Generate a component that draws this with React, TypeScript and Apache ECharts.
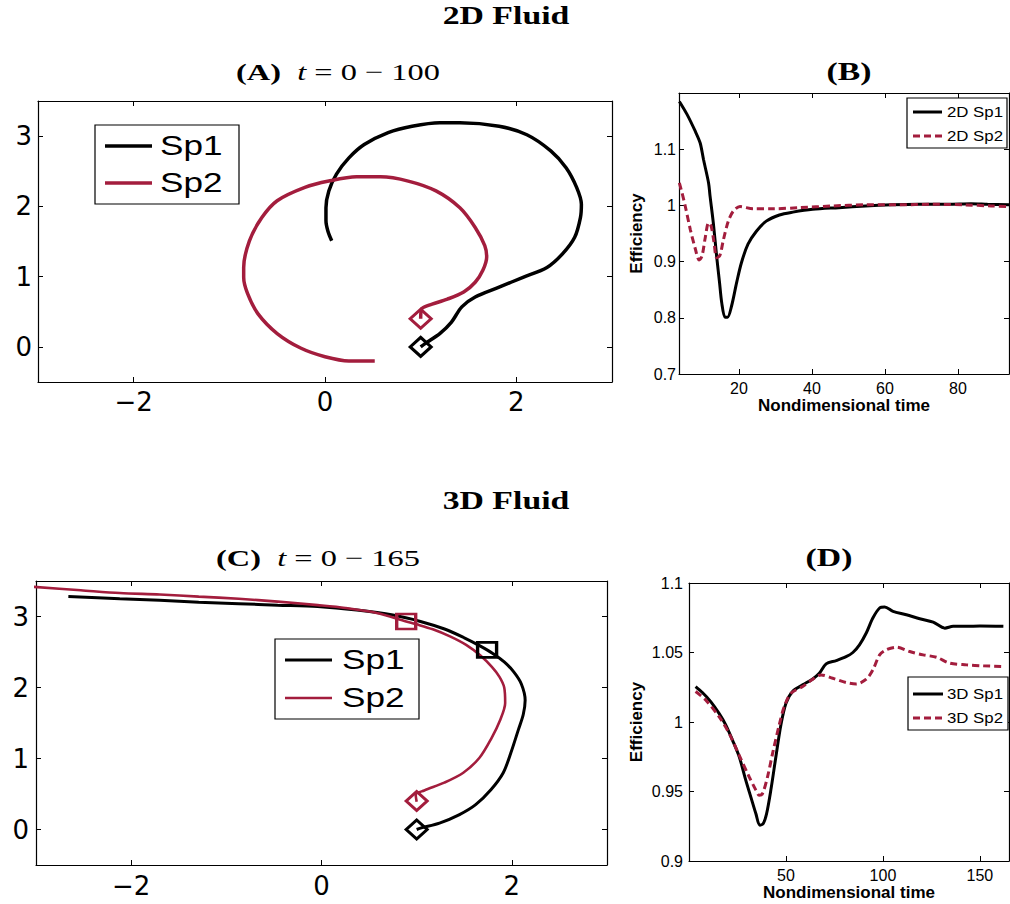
import React, { useEffect, useRef } from 'react';
import * as echarts from 'echarts';

const RED = '#a31d3d';
const BLACK = '#000000';

// ---------- Panel A: 2D fluid trajectories, t = 0-100 ----------
const A_SP1_X = [1.0, 1.05, 1.2, 1.32, 1.43, 1.57, 1.82, 2.07, 2.32, 2.48, 2.61, 2.67, 2.68, 2.63, 2.52, 2.36, 2.11, 1.82, 1.41, 1.2, 0.91, 0.66, 0.41, 0.25, 0.12, 0.04, 0.01, 0.01, 0.03, 0.07];
const A_SP1_Y = [0.0, 0.05, 0.19, 0.35, 0.57, 0.71, 0.85, 0.99, 1.13, 1.32, 1.56, 1.84, 2.03, 2.27, 2.55, 2.79, 3.02, 3.14, 3.19, 3.19, 3.14, 3.05, 2.88, 2.69, 2.46, 2.22, 1.98, 1.8, 1.65, 1.51];
const A_SP2_X = [1.0, 1.01, 1.08, 1.28, 1.45, 1.57, 1.65, 1.69, 1.67, 1.57, 1.41, 1.16, 0.87, 0.58, 0.33, 0.04, -0.21, -0.5, -0.66, -0.79, -0.85, -0.85, -0.81, -0.7, -0.5, -0.25, 0.0, 0.25, 0.52];
const A_SP2_Y = [0.4, 0.54, 0.59, 0.68, 0.78, 0.92, 1.09, 1.28, 1.44, 1.7, 1.98, 2.22, 2.36, 2.42, 2.42, 2.36, 2.27, 2.08, 1.84, 1.51, 1.13, 0.99, 0.76, 0.47, 0.19, -0.02, -0.14, -0.2, -0.2];
const A_START_SP1 = [1.0, 0.0];
const A_START_SP2 = [1.0, 0.4];

// ---------- Panel B: 2D efficiency ----------
const B_SP1_T = [3.7, 5.8, 8.05, 9.4, 10.3, 11.7, 12.1, 13.0, 13.9, 14.7, 15.3, 16.2, 16.9, 18.0, 19.4, 20.7, 22.5, 24.8, 27.5, 31.1, 34.8, 40.2, 47.4, 54.7, 61.9, 69.1, 77.3, 83.6, 88.1, 94];
const B_SP1_V = [1.185, 1.162, 1.132, 1.111, 1.082, 1.04, 1.017, 0.969, 0.91, 0.863, 0.827, 0.801, 0.801, 0.821, 0.863, 0.898, 0.931, 0.954, 0.972, 0.983, 0.988, 0.993, 0.996, 0.999, 1.001, 1.002, 1.002, 1.003, 1.002, 1.001];
const B_SP2_T = [3.7, 4.4, 5.3, 6.7, 8.1, 9.1, 9.9, 10.8, 11.7, 12.4, 13.2, 13.9, 14.8, 15.7, 17.1, 18.5, 20.3, 23.9, 29.3, 36.6, 45.6, 54.7, 63.7, 72.8, 81.8, 89.1, 94];
const B_SP2_V = [1.04, 1.023, 0.999, 0.957, 0.922, 0.903, 0.91, 0.943, 0.969, 0.963, 0.934, 0.907, 0.911, 0.937, 0.972, 0.99, 0.998, 0.994, 0.994, 0.996, 0.999, 1.001, 1.001, 1.002, 1.001, 0.999, 0.998];

// ---------- Panel C: 3D fluid trajectories, t = 0-165 ----------
const C_SP1_X = [1.0, 1.04, 1.24, 1.45, 1.62, 1.78, 1.91, 1.99, 2.07, 2.12, 2.14, 2.10, 2.02, 1.92, 1.80, 1.66, 1.50, 1.30, 1.04, 0.75, 0.37, -0.04, -0.46, -0.87, -1.29, -1.7, -2.12, -2.66];
const C_SP1_Y = [0.0, 0.02, 0.09, 0.21, 0.35, 0.56, 0.8, 1.08, 1.41, 1.62, 1.82, 2.05, 2.22, 2.36, 2.48, 2.59, 2.70, 2.82, 2.93, 3.02, 3.09, 3.14, 3.16, 3.18, 3.2, 3.23, 3.25, 3.28];
const C_SP2_X = [1.0, 0.99, 1.08, 1.29, 1.49, 1.66, 1.78, 1.88, 1.93, 1.92, 1.87, 1.79, 1.67, 1.52, 1.35, 1.17, 1.0, 0.89, 0.58, 0.25, -0.04, -0.46, -0.87, -1.29, -1.7, -2.12, -2.53, -3.05];
const C_SP2_Y = [0.39, 0.49, 0.55, 0.66, 0.8, 1.01, 1.27, 1.55, 1.78, 2.0, 2.15, 2.29, 2.45, 2.6, 2.72, 2.82, 2.89, 2.93, 3.05, 3.12, 3.16, 3.21, 3.25, 3.28, 3.31, 3.33, 3.37, 3.42];
const C_START_SP1 = [1.0, 0.0];
const C_START_SP2 = [1.0, 0.4];
const C_MARK_SP1 = [1.74, 2.53];
const C_MARK_SP2 = [0.89, 2.93];

// ---------- Panel D: 3D efficiency ----------
const D_SP1_T = [3.4, 6.9, 11.2, 15.5, 19.0, 22.4, 25.9, 29.3, 31.9, 34.5, 36.5, 38.3, 40.0, 42.2, 44.8, 47.4, 50.0, 53.4, 58.6, 63.8, 67.2, 70.7, 75.9, 81.0, 84.5, 87.9, 91.4, 94.8, 98.3, 100.9, 105.2, 112.1, 119.0, 125.9, 131.9, 136.2, 143.1, 150.0, 162.1];
const D_SP1_V = [1.0255, 1.0212, 1.0147, 1.0062, 0.9978, 0.987, 0.975, 0.958, 0.946, 0.934, 0.9257, 0.927, 0.934, 0.951, 0.975, 0.998, 1.0135, 1.022, 1.0267, 1.031, 1.035, 1.0418, 1.0442, 1.047, 1.05, 1.0555, 1.064, 1.0748, 1.082, 1.0827, 1.0796, 1.0772, 1.0743, 1.0719, 1.0675, 1.0688, 1.0688, 1.069, 1.0688];
const D_SP2_T = [3.4, 8.6, 15.5, 20.7, 25.9, 31.0, 34.5, 36.2, 37.9, 40.5, 43.1, 46.5, 49.1, 52.6, 58.6, 63.8, 68.1, 74.1, 81.0, 86.2, 91.4, 94.8, 98.3, 101.7, 106.9, 113.8, 120.7, 127.6, 134.5, 143.1, 151.7, 162.1];
const D_SP2_V = [1.0219, 1.0159, 1.0038, 0.9918, 0.976, 0.9606, 0.951, 0.9473, 0.9485, 0.9606, 0.9774, 0.9978, 1.011, 1.0207, 1.0255, 1.0308, 1.0339, 1.0315, 1.0284, 1.0274, 1.0308, 1.0375, 1.0483, 1.0519, 1.0538, 1.0507, 1.0483, 1.0466, 1.0423, 1.0411, 1.0404, 1.0399];

// ---------- ticks ----------
const TRAJ_X_TICKS = [-2, 0, 2];
const TRAJ_Y_TICKS = [0, 1, 2, 3];
const B_X_TICKS = [20, 40, 60, 80];
const B_Y_TICKS = [0.7, 0.8, 0.9, 1, 1.1];
const D_X_TICKS = [50, 100, 150];
const D_Y_TICKS = [0.9, 0.95, 1, 1.05, 1.1];

const zip = (xs: number[], ys: number[]) => xs.map((x, i) => [x, ys[i]]);
const fmt = (v: number) => (v < 0 ? '\u2212' + String(-v) : String(v));

const TICK_FONT_BIG = '"DejaVu Sans", sans-serif';
const SANS = '"Liberation Sans", Arial, sans-serif';
const SERIF = '"Liberation Serif", "Times New Roman", serif';

function axes(kind: 'x' | 'y', gridIndex: number, min: number, max: number, ticks: number[], font: string, size: number, margin: number, name?: string, nameGap?: number) {
  const common: any = {
    type: 'value',
    gridIndex,
    min,
    max,
    splitLine: { show: false },
    axisLine: { show: true, onZero: false, lineStyle: { color: BLACK, width: 1.2 } },
    axisTick: { show: true, inside: true, length: 5, customValues: ticks, lineStyle: { color: BLACK, width: 1 } },
  };
  const primary: any = {
    ...common,
    position: kind === 'x' ? 'bottom' : 'left',
    axisLabel: { show: true, customValues: ticks, formatter: fmt, fontFamily: font, fontSize: size, color: BLACK, margin },
  };
  if (name) {
    primary.name = name;
    primary.nameLocation = 'middle';
    primary.nameGap = nameGap;
    primary.nameRotate = kind === 'y' ? 90 : 0;
    primary.nameTextStyle = { fontFamily: SANS, fontWeight: 'bold', fontSize: 17, color: BLACK };
  }
  const mirror: any = { ...common, position: kind === 'x' ? 'top' : 'right', axisLabel: { show: false } };
  return [primary, mirror];
}

function lineSeries(ax: number, data: number[][], color: string, width: number, dashed: boolean) {
  return {
    type: 'line',
    xAxisIndex: ax,
    yAxisIndex: ax,
    data,
    showSymbol: false,
    symbol: 'none',
    smooth: 0.3,
    clip: true,
    lineStyle: { color, width, type: dashed ? [7, 4] : 'solid' },
    z: dashed ? 3 : 2,
  };
}

function markerSeries(ax: number, point: number[], symbol: string, size: number[], color: string) {
  return {
    type: 'scatter',
    xAxisIndex: ax,
    yAxisIndex: ax,
    data: [point],
    symbol,
    symbolSize: size,
    itemStyle: { color: 'rgba(0,0,0,0)', borderColor: color, borderWidth: 3, opacity: 1 },
    z: 5,
  };
}

function legend(left: number, top: number, w: number, h: number, lx1: number, lx2: number, tx: number, rows: { y: number; label: string; color: string; dashed: boolean; width: number }[], fontSize: number, scaleX: number) {
  const els: any[] = [
    { type: 'rect', shape: { x: left, y: top, width: w, height: h }, style: { fill: '#fff', stroke: BLACK, lineWidth: 1.2 }, z: 10 },
  ];
  rows.forEach((r) => {
    els.push({
      type: 'line',
      shape: { x1: lx1, y1: r.y, x2: lx2, y2: r.y },
      style: { stroke: r.color, lineWidth: r.width, lineDash: r.dashed ? [7, 4] : null },
      z: 11,
    });
    els.push({
      type: 'text',
      x: tx,
      y: r.y,
      scaleX,
      style: { text: r.label, fontFamily: SANS, fontSize, fill: BLACK, align: 'left', verticalAlign: 'middle' },
      z: 11,
    });
  });
  return els;
}

function title(x: number, y: number, label: string, rest: string | null, size: number, scaleX: number) {
  const text = rest ? `{b|${label}}{n|  }{i|t}{n| = 0 \u2212 ${rest}}` : `{b|${label}}`;
  return {
    type: 'text',
    x,
    y,
    scaleX,
    style: {
      text,
      align: 'center',
      verticalAlign: 'middle',
      fill: BLACK,
      rich: {
        b: { fontFamily: SERIF, fontWeight: 'bold', fontSize: size, fill: BLACK },
        i: { fontFamily: SERIF, fontStyle: 'italic', fontSize: size, fill: BLACK },
        n: { fontFamily: SERIF, fontSize: size, fill: BLACK },
      },
    },
    z: 10,
  };
}

function header(x: number, y: number, label: string) {
  return {
    type: 'text',
    x,
    y,
    scaleX: 1.3,
    style: { text: label, fontFamily: SERIF, fontWeight: 'bold', fontSize: 26, fill: BLACK, align: 'center', verticalAlign: 'middle' },
    z: 10,
  };
}

export default function App() {
  const ref = useRef<HTMLDivElement>(null);

  useEffect(() => {
    if (!ref.current) return;
    const chart = echarts.init(ref.current, null, { renderer: 'svg', width: 1010, height: 904 });

    const xA = axes('x', 0, -3, 3, TRAJ_X_TICKS, TICK_FONT_BIG, 26, 7);
    const yA = axes('y', 0, -0.5, 3.5, TRAJ_Y_TICKS, TICK_FONT_BIG, 26, 6);
    const xB = axes('x', 1, 3.6, 94, B_X_TICKS, SANS, 16, 6, 'Nondimensional time', 22);
    const yB = axes('y', 1, 0.7, 1.2, B_Y_TICKS, SANS, 16, 3, 'Efficiency', 34);
    const xC = axes('x', 2, -3, 3, TRAJ_X_TICKS, TICK_FONT_BIG, 26, 8);
    const yC = axes('y', 2, -0.5, 3.5, TRAJ_Y_TICKS, TICK_FONT_BIG, 26, 7);
    const xD = axes('x', 3, 0, 165, D_X_TICKS, SANS, 16, 6, 'Nondimensional time', 22);
    const yD = axes('y', 3, 0.9, 1.1, D_Y_TICKS, SANS, 16, 6, 'Efficiency', 44);

    // xAxis order: A(0,1) B(2,3) C(4,5) D(6,7) ; primary of panel k is index 2k
    const option: any = {
      animation: false,
      backgroundColor: '#ffffff',
      grid: [
        { left: 38, top: 101, width: 574, height: 281 },
        { left: 679, top: 93, width: 330, height: 281 },
        { left: 36, top: 581, width: 571, height: 284 },
        { left: 689, top: 583, width: 320, height: 278 },
      ],
      xAxis: [...xA, ...xB, ...xC, ...xD],
      yAxis: [...yA, ...yB, ...yC, ...yD],
      series: [
        lineSeries(0, zip(A_SP1_X, A_SP1_Y), BLACK, 3.5, false),
        lineSeries(0, zip(A_SP2_X, A_SP2_Y), RED, 3.5, false),
        markerSeries(0, A_START_SP1, 'diamond', [21, 19], BLACK),
        markerSeries(0, A_START_SP2, 'diamond', [21, 19], RED),

        lineSeries(2, zip(B_SP1_T, B_SP1_V), BLACK, 3, false),
        lineSeries(2, zip(B_SP2_T, B_SP2_V), RED, 3, true),

        lineSeries(4, zip(C_SP1_X, C_SP1_Y), BLACK, 3, false),
        lineSeries(4, zip(C_SP2_X, C_SP2_Y), RED, 2.6, false),
        markerSeries(4, C_START_SP1, 'diamond', [21, 19], BLACK),
        markerSeries(4, C_START_SP2, 'diamond', [21, 19], RED),
        markerSeries(4, C_MARK_SP1, 'rect', [19, 15], BLACK),
        markerSeries(4, C_MARK_SP2, 'rect', [19, 15], RED),

        lineSeries(6, zip(D_SP1_T, D_SP1_V), BLACK, 3, false),
        lineSeries(6, zip(D_SP2_T, D_SP2_V), RED, 3, true),
      ],
      graphic: [
        header(506, 15, '2D Fluid'),
        header(506, 500, '3D Fluid'),
        title(338, 72, '(A)', '100', 24, 1.35),
        title(849, 72, '(B)', null, 25, 1.35),
        title(318, 558, '(C)', '165', 24, 1.35),
        title(829, 558, '(D)', null, 25, 1.35),
        ...legend(95, 125, 144, 79, 105, 152, 160, [
          { y: 146, label: 'Sp1', color: BLACK, dashed: false, width: 3.5 },
          { y: 183, label: 'Sp2', color: RED, dashed: false, width: 3.5 },
        ], 27, 1.3),
        ...legend(275, 639, 144, 80, 285, 332, 342, [
          { y: 660, label: 'Sp1', color: BLACK, dashed: false, width: 3 },
          { y: 698, label: 'Sp2', color: RED, dashed: false, width: 2.6 },
        ], 27, 1.3),
        ...legend(907, 98, 100, 50, 913, 942, 947, [
          { y: 112, label: '2D Sp1', color: BLACK, dashed: false, width: 3 },
          { y: 136, label: '2D Sp2', color: RED, dashed: true, width: 3 },
        ], 15, 1.12),
        ...legend(908, 677, 100, 53, 913, 943, 947, [
          { y: 694, label: '3D Sp1', color: BLACK, dashed: false, width: 3 },
          { y: 718, label: '3D Sp2', color: RED, dashed: true, width: 3 },
        ], 15, 1.12),
      ],
    };

    chart.setOption(option);
    return () => chart.dispose();
  }, []);

  return <div ref={ref} style={{ position: 'absolute', left: 0, top: 0, width: 1010, height: 904, background: '#fff' }} />;
}
